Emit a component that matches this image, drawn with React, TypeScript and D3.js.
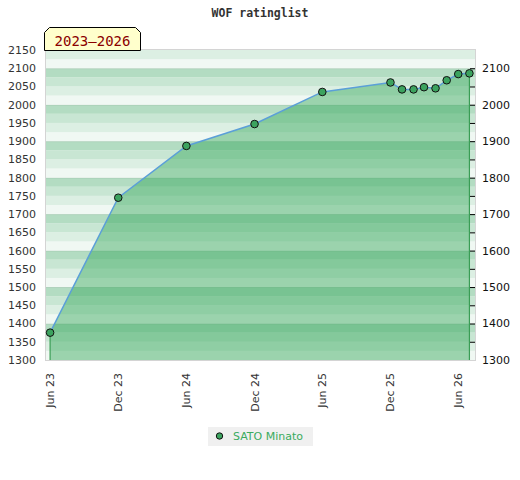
import React, { useEffect, useRef } from 'react';
import * as d3 from 'd3';

// rating history of the single player
const dates = [
  '2023-06-01', '2023-12-01', '2024-06-01', '2024-12-01', '2025-06-01',
  '2025-12-01', '2026-01-01', '2026-02-01', '2026-03-01', '2026-04-01',
  '2026-05-01', '2026-06-01', '2026-07-01',
];
const ratings = [1375, 1745, 1887, 1947, 2035, 2061, 2042, 2042, 2048, 2045, 2067, 2084, 2086];
const xTicks = ['2023-06-01', '2023-12-01', '2024-06-01', '2024-12-01', '2025-06-01', '2025-12-01', '2026-06-01'];
const leftTicks = d3.range(1300, 2151, 50);
const rightTicks = d3.range(1300, 2101, 100);
const minorTicks = d3.range(1350, 2101, 50);
const playerName = 'SATO Minato';
const title = 'WOF ratinglist';
const period = '2023\u20132026';

const bandColors = ['#f0f8f3', '#dcefe3', '#c8e6d3', '#b3dcc2'];

const App: React.FC = () => {
  const svgRef = useRef<SVGSVGElement>(null);

  useEffect(() => {
    if (!svgRef.current) return;
    const svg = d3.select(svgRef.current);
    svg.selectAll('*').remove();

    const left = 46, right = 475, top = 50, bottom = 360;
    const parse = d3.timeParse('%Y-%m-%d');
    const data = dates.map((d, i) => ({ date: parse(d) as Date, value: ratings[i] }));

    const x = d3.scaleTime()
      .domain([parse('2023-05-21') as Date, parse('2026-07-16') as Date])
      .range([left, right]);
    const y = d3.scaleLinear().domain([1300, 2150]).range([bottom, top]);

    // stripes, 25 points each
    const bands = d3.range(1300, 2150, 25);
    svg.append('g')
      .selectAll('rect')
      .data(bands)
      .join('rect')
      .attr('x', left)
      .attr('width', right - left)
      .attr('y', d => y(d + 25))
      .attr('height', d => y(d) - y(d + 25))
      .attr('fill', d => bandColors[(d % 100) / 25]);

    // faint lines every 100
    svg.append('g')
      .selectAll('line')
      .data(rightTicks)
      .join('line')
      .attr('x1', left)
      .attr('x2', right)
      .attr('y1', d => y(d) + 0.5)
      .attr('y2', d => y(d) + 0.5)
      .attr('stroke', '#000')
      .attr('stroke-opacity', 0.06);

    // area + line
    const area = d3.area<{ date: Date; value: number }>()
      .x(d => x(d.date))
      .y0(bottom)
      .y1(d => y(d.value));
    svg.append('path')
      .datum(data)
      .attr('d', area)
      .attr('fill', 'rgb(46,165,85)')
      .attr('fill-opacity', 0.44);

    const first = data[0], last = data[data.length - 1];
    svg.append('g')
      .selectAll('line')
      .data([first, last])
      .join('line')
      .attr('x1', d => x(d.date))
      .attr('x2', d => x(d.date))
      .attr('y1', d => y(d.value))
      .attr('y2', bottom)
      .attr('stroke', '#3a9d55')
      .attr('stroke-width', 1.2);

    const line = d3.line<{ date: Date; value: number }>()
      .x(d => x(d.date))
      .y(d => y(d.value));
    svg.append('path')
      .datum(data)
      .attr('d', line)
      .attr('fill', 'none')
      .attr('stroke', '#5b9fd8')
      .attr('stroke-width', 1.5);

    // frame
    svg.append('rect')
      .attr('x', left - 0.5)
      .attr('y', top - 0.5)
      .attr('width', right - left + 1)
      .attr('height', bottom - top + 1)
      .attr('fill', 'none')
      .attr('stroke', '#d4d4d4');

    // right ticks
    svg.append('g')
      .selectAll('line')
      .data(minorTicks)
      .join('line')
      .attr('x1', right - 5)
      .attr('x2', right)
      .attr('y1', d => y(d) + 0.5)
      .attr('y2', d => y(d) + 0.5)
      .attr('stroke', '#000');

    svg.selectAll('circle.pt')
      .data(data)
      .join('circle')
      .attr('class', 'pt')
      .attr('cx', d => x(d.date))
      .attr('cy', d => y(d.value))
      .attr('r', 3.8)
      .attr('fill', '#3ca35f')
      .attr('stroke', '#111')
      .attr('stroke-width', 1);

    const font = 'DejaVu Sans, sans-serif';

    svg.append('g')
      .selectAll('text')
      .data(leftTicks)
      .join('text')
      .attr('x', 36)
      .attr('y', d => y(d))
      .attr('dy', '0.36em')
      .attr('text-anchor', 'end')
      .attr('font-family', font)
      .attr('font-size', 11)
      .attr('fill', '#333')
      .text(d => d);

    svg.append('g')
      .selectAll('text')
      .data(rightTicks)
      .join('text')
      .attr('x', 482)
      .attr('y', d => y(d))
      .attr('dy', '0.36em')
      .attr('font-family', font)
      .attr('font-size', 11)
      .attr('fill', '#111')
      .text(d => d);

    const fmt = d3.timeFormat('%b %y');
    svg.append('g')
      .selectAll('text')
      .data(xTicks.map(t => parse(t) as Date))
      .join('text')
      .attr('transform', d => `translate(${x(d) + 4},373) rotate(-90)`)
      .attr('text-anchor', 'end')
      .attr('font-family', font)
      .attr('font-size', 11)
      .attr('fill', '#333')
      .text(d => fmt(d));

    // title
    svg.append('text')
      .attr('x', 260)
      .attr('y', 17)
      .attr('text-anchor', 'middle')
      .attr('font-family', 'DejaVu Sans Mono, monospace')
      .attr('font-weight', 'bold')
      .attr('font-size', 11.5)
      .attr('fill', '#333')
      .text(title);

    // period tag
    const bx0 = 44.5, bx1 = 140.5, by0 = 27.5, by1 = 50.5, c = 5;
    svg.append('path')
      .attr('d', `M${bx0},${by1} L${bx0},${by0 + c} L${bx0 + c},${by0} L${bx1 - c},${by0} L${bx1},${by0 + c} L${bx1},${by1} Z`)
      .attr('fill', '#ffffcc')
      .attr('stroke', '#000');
    svg.append('text')
      .attr('x', (bx0 + bx1) / 2)
      .attr('y', 46)
      .attr('text-anchor', 'middle')
      .attr('font-family', 'DejaVu Sans Mono, monospace')
      .attr('font-size', 14)
      .attr('fill', '#8b0000')
      .text(period);

    // legend
    svg.append('rect')
      .attr('x', 208)
      .attr('y', 427)
      .attr('width', 105)
      .attr('height', 19)
      .attr('fill', '#f0f0f0');
    svg.append('circle')
      .attr('cx', 219.5)
      .attr('cy', 436)
      .attr('r', 3.2)
      .attr('fill', '#3ca35f')
      .attr('stroke', '#111');
    svg.append('text')
      .attr('x', 233)
      .attr('y', 440)
      .attr('font-family', font)
      .attr('font-size', 11)
      .attr('fill', '#3aab5e')
      .text(playerName);
  }, []);

  return (
    <svg
      ref={svgRef}
      width={520}
      height={480}
      viewBox="0 0 520 480"
      style={{ position: 'absolute', left: 0, top: 0, background: '#fff' }}
    />
  );
};

export default App;
